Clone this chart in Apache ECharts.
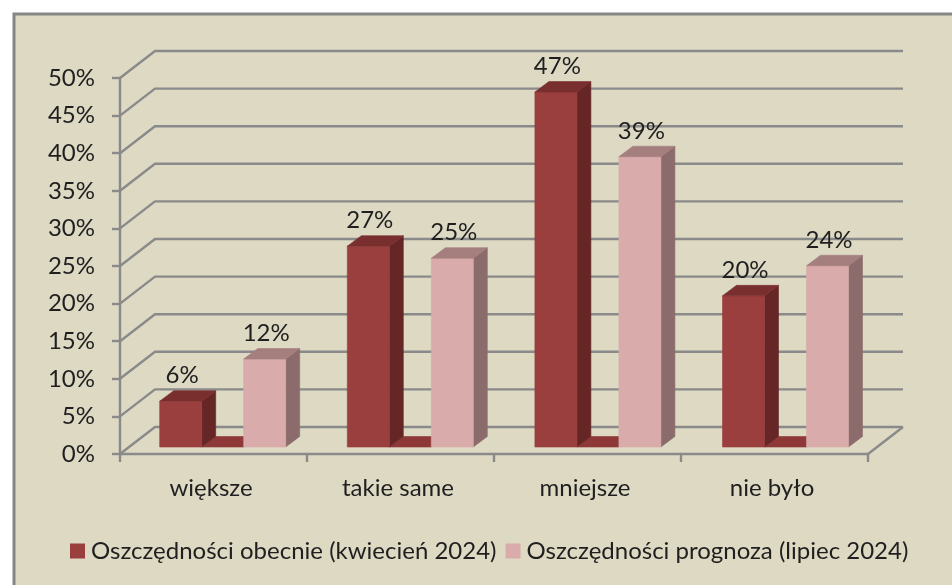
<!DOCTYPE html>
<html><head><meta charset="utf-8">
<style>html,body{margin:0;padding:0;background:#fff}#c{width:952px;height:585px}</style>
<script src="https://cdn.jsdelivr.net/npm/echarts@6/dist/echarts.min.js"></script>
</head><body><div id="c"></div>
<script>
const categories = ['większe', 'takie same', 'mniejsze', 'nie było'];
const currentName = 'Oszczędności obecnie (kwiecień 2024)';
const forecastName = 'Oszczędności prognoza (lipiec 2024)';
const currentValues = [6.1, 26.7, 47.2, 20.1];
const spacerValues = [0, 0, 0, 0];
const forecastValues = [11.7, 25.1, 38.6, 24.1];
const valueTicks = [0, 5, 10, 15, 20, 25, 30, 35, 40, 45, 50];

const FONT = 'Lato, "Open Sans", sans-serif';
const TEXT = '#1f1f1f', GREY = '#8a8a8a';
const WALL = [35, -27], BAR_OFFSET = [9.2, -7], BAR_DEPTH = [14, -10.5];
const SLOT_RATIO = 42 / 187, BAR_SPREAD = 0.6;

function poly(points, fill) {
  return { type: 'polygon', shape: { points }, style: { fill, stroke: fill, lineWidth: 0.6 } };
}
function barRenderer(slot, colors, showLabel) {
  return function (params, api) {
    const c = api.coord([api.value(0), api.value(1)]);
    const base = api.coord([api.value(0), 0]);
    const catW = api.size([1, 0])[0];
    const w = catW * SLOT_RATIO;
    const x0 = c[0] + (slot - 1.5) * w + BAR_OFFSET[0] + api.value(0) * BAR_SPREAD;
    const x1 = x0 + w;
    const yb = base[1] + BAR_OFFSET[1];
    const yt = c[1] + BAR_OFFSET[1];
    const dx = BAR_DEPTH[0], dy = BAR_DEPTH[1];
    const children = [];
    if (api.value(1) > 0) {
      children.push(poly([[x1, yb], [x1 + dx, yb + dy], [x1 + dx, yt + dy], [x1, yt]], colors.side));
      children.push(poly([[x0, yb], [x1, yb], [x1, yt], [x0, yt]], colors.front));
    }
    children.push(poly([[x0, yt], [x1, yt], [x1 + dx, yt + dy], [x0 + dx, yt + dy]], colors.top));
    if (showLabel) {
      children.push({
        type: 'text',
        style: {
          text: Math.round(api.value(1)) + '%',
          x: (x0 + x1) / 2 + 1.5, y: yt + dy - 15,
          align: 'center', verticalAlign: 'middle',
          fontSize: 24, fontFamily: FONT, fill: TEXT
        }
      });
    }
    return { type: 'group', children };
  };
}
function wallRenderer(params, api) {
  const v = api.value(1);
  const p = api.coord([0, v]);
  const cs = params.coordSys;
  const left = cs.x, right = cs.x + cs.width, y = p[1];
  const children = [{
    type: 'polyline',
    shape: { points: [[left, y], [left + WALL[0], y + WALL[1]], [right + WALL[0], y + WALL[1]]] },
    style: { fill: 'none', stroke: GREY, lineWidth: 2.4 }
  }];
  if (v === 0) {
    children.push({
      type: 'line',
      shape: { x1: right, y1: y, x2: right + WALL[0], y2: y + WALL[1] },
      style: { stroke: GREY, lineWidth: 2.4 }
    });
  }
  return { type: 'group', children };
}
function pairs(values) { return values.map((v, i) => [i, v]); }

const chart = echarts.init(document.getElementById('c'), null, { renderer: 'canvas' });
const red = { front: '#9b3e3e', side: '#662626', top: '#7a2f2f' };
const strip = { front: '#8f3838', side: '#8f3838', top: '#8f3838' };
const pink = { front: '#d9abaa', side: '#8c6b6c', top: '#a57e7e' };
chart.setOption({
  animation: false,
  backgroundColor: '#ffffff',
  graphic: [{
    type: 'rect', z: -1, silent: true,
    shape: { x: 14, y: 14, width: 1000, height: 1000 },
    style: { fill: '#ddd9c3', stroke: '#858585', lineWidth: 3 }
  }],
  grid: { left: 120, right: 84, top: 78, bottom: 131, containLabel: false },
  legend: {
    data: [currentName, forecastName],
    left: 70, top: 539, padding: 0,
    icon: 'rect', itemWidth: 15, itemHeight: 15, itemGap: 9,
    textStyle: { fontSize: 24, fontFamily: FONT, color: TEXT, padding: [0, 0, 0, 1] }
  },
  xAxis: {
    type: 'category', data: categories,
    axisLine: { show: true, lineStyle: { color: GREY, width: 2.4 } },
    axisTick: { show: true, length: 8, lineStyle: { color: GREY, width: 2.4 } },
    axisLabel: { fontSize: 24, fontFamily: FONT, color: TEXT, margin: 22, padding: [0, 5, 0, 0] }
  },
  yAxis: {
    type: 'value', min: 0, max: 50, interval: 5,
    splitLine: { show: false },
    axisLine: { show: true, lineStyle: { color: GREY, width: 2.4 } },
    axisTick: { show: true, length: 8, lineStyle: { color: GREY, width: 2.4 } },
    axisLabel: { fontSize: 24, fontFamily: FONT, color: TEXT, margin: 25, padding: [2, 0, 0, 0], formatter: '{value}%' }
  },
  series: [
    { type: 'custom', name: 'wall', silent: true, z: 1, data: valueTicks.map(v => [0, v]),
      encode: { x: 0, y: 1 }, renderItem: wallRenderer },
    { type: 'custom', name: currentName, z: 3, itemStyle: { color: red.front },
      data: pairs(currentValues), encode: { x: 0, y: 1 }, renderItem: barRenderer(0, red, true) },
    { type: 'custom', name: 'spacer', z: 2, itemStyle: { color: strip.top },
      data: pairs(spacerValues), encode: { x: 0, y: 1 }, renderItem: barRenderer(1, strip, false) },
    { type: 'custom', name: forecastName, z: 4, itemStyle: { color: pink.front },
      data: pairs(forecastValues), encode: { x: 0, y: 1 }, renderItem: barRenderer(2, pink, true) }
  ]
});
</script></body></html>
